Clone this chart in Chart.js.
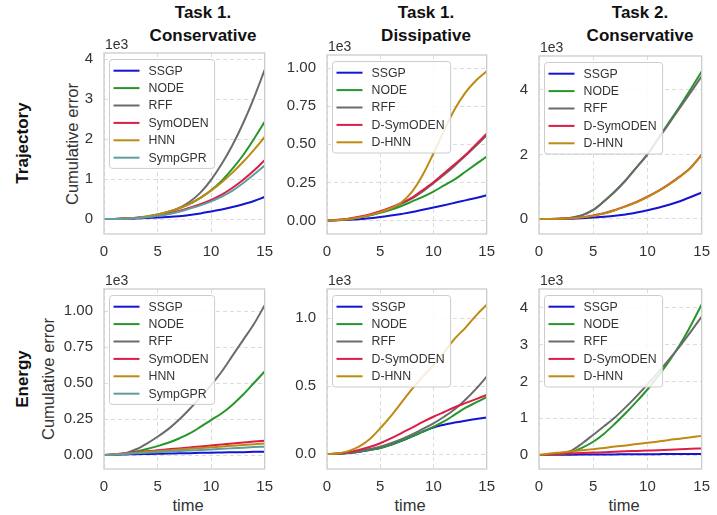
<!DOCTYPE html>
<html>
<head>
<meta charset="utf-8">
<script src="https://cdn.jsdelivr.net/npm/chart.js@4.4.0/dist/chart.umd.min.js"></script>
<style>
  body { margin: 0; background: #fff; font-family: "Liberation Sans", Arial, sans-serif; }
  #fig { position: relative; width: 717px; height: 515px; overflow: hidden; background: #fff; }
  #fig canvas { position: absolute; }
  .lbl { position: absolute; white-space: nowrap; line-height: 1; color: #333; }
  .col { font-weight: bold; font-size: 17px; color: #111; text-align: center; line-height: 23px; transform: translateX(-50%); }
  .row { font-weight: bold; font-size: 17px; color: #111; transform: translate(-50%, -50%) rotate(-90deg); }
  .ax { font-size: 16.5px; transform: translate(-50%, -50%); }
  .axr { font-size: 16.5px; transform: translate(-50%, -50%) rotate(-90deg); }
</style>
</head>
<body>
<div id="fig">
  <div class="lbl col" style="left:203px;top:1px">Task 1.<br>Conservative</div>
  <div class="lbl col" style="left:426px;top:1px">Task 1.<br>Dissipative</div>
  <div class="lbl col" style="left:640px;top:1px">Task 2.<br>Conservative</div>
  <div class="lbl row" style="left:22px;top:143px">Trajectory</div>
  <div class="lbl row" style="left:22px;top:379px">Energy</div>
  <div class="lbl axr" style="left:72px;top:144px">Cumulative error</div>
  <div class="lbl axr" style="left:48px;top:379px">Cumulative error</div>
  <div class="lbl ax" style="left:188px;top:505px">time</div>
  <div class="lbl ax" style="left:410px;top:505px">time</div>
  <div class="lbl ax" style="left:624px;top:505px">time</div>
</div>
<script>
const times = [0, 1, 2, 3, 4, 5, 6, 7, 8, 9, 10, 11, 12, 13, 14, 15]
const xTicks = [0, 5, 10, 15]

const namesCons1 = ['SSGP', 'NODE', 'RFF', 'SymODEN', 'HNN', 'SympGPR']
const namesOther = ['SSGP', 'NODE', 'RFF', 'D-SymODEN', 'D-HNN']

// trajectory, task 1 conservative (x1e3)
const trajCons1SSGP = [0, 0.002, 0.006, 0.012, 0.022, 0.035, 0.05, 0.07, 0.1, 0.14, 0.19, 0.24, 0.3, 0.37, 0.45, 0.55]
const trajCons1NODE = [0, 0.003, 0.012, 0.03, 0.06, 0.11, 0.18, 0.27, 0.38, 0.53, 0.72, 0.96, 1.26, 1.6, 2.0, 2.43]
const trajCons1RFF = [0, 0.003, 0.01, 0.025, 0.05, 0.09, 0.16, 0.27, 0.43, 0.66, 0.98, 1.38, 1.85, 2.4, 3.03, 3.73]
const trajCons1SymODEN = [0, 0.002, 0.01, 0.025, 0.05, 0.085, 0.13, 0.2, 0.28, 0.37, 0.48, 0.61, 0.78, 0.98, 1.21, 1.47]
const trajCons1HNN = [0, 0.003, 0.013, 0.032, 0.065, 0.115, 0.18, 0.27, 0.38, 0.53, 0.71, 0.92, 1.16, 1.43, 1.73, 2.05]
const trajCons1SympGPR = [0, 0.002, 0.009, 0.022, 0.045, 0.078, 0.12, 0.18, 0.26, 0.34, 0.44, 0.56, 0.71, 0.9, 1.11, 1.34]

// trajectory, task 1 dissipative
const trajDiss1SSGP = [0, 0.001, 0.004, 0.008, 0.014, 0.022, 0.032, 0.043, 0.055, 0.07, 0.085, 0.1, 0.116, 0.132, 0.148, 0.165]
const trajDiss1NODE = [0, 0.003, 0.01, 0.02, 0.033, 0.05, 0.07, 0.095, 0.125, 0.155, 0.19, 0.23, 0.27, 0.32, 0.37, 0.42]
const trajDiss1RFF = [0, 0.003, 0.01, 0.02, 0.035, 0.055, 0.08, 0.11, 0.145, 0.19, 0.245, 0.3, 0.36, 0.425, 0.49, 0.56]
const trajDiss1SymODEN = [0, 0.004, 0.012, 0.024, 0.04, 0.06, 0.085, 0.115, 0.15, 0.2, 0.25, 0.31, 0.37, 0.43, 0.5, 0.57]
const trajDiss1HNN = [0, 0.003, 0.01, 0.02, 0.035, 0.055, 0.08, 0.12, 0.19, 0.3, 0.44, 0.59, 0.73, 0.84, 0.92, 0.98]

// trajectory, task 2 conservative
const trajCons2SSGP = [0, 0.001, 0.004, 0.01, 0.025, 0.045, 0.07, 0.1, 0.14, 0.2, 0.27, 0.35, 0.44, 0.55, 0.68, 0.82]
const trajCons2NODE = [0, 0.002, 0.01, 0.04, 0.12, 0.28, 0.55, 0.85, 1.2, 1.6, 2.0, 2.5, 3.0, 3.5, 4.03, 4.57]
const trajCons2RFF = [0, 0.002, 0.01, 0.04, 0.12, 0.28, 0.55, 0.85, 1.2, 1.6, 2.0, 2.48, 2.96, 3.45, 3.93, 4.42]
const trajCons2SymODEN = [0, 0.002, 0.008, 0.02, 0.05, 0.11, 0.18, 0.28, 0.4, 0.53, 0.69, 0.87, 1.08, 1.32, 1.6, 1.99]
const trajCons2HNN = [0, 0.002, 0.008, 0.02, 0.05, 0.1, 0.17, 0.27, 0.39, 0.52, 0.68, 0.86, 1.07, 1.31, 1.59, 1.98]

// energy, task 1 conservative
const enCons1SSGP = [0, 0.002, 0.004, 0.006, 0.007, 0.009, 0.01, 0.012, 0.013, 0.015, 0.016, 0.018, 0.019, 0.02, 0.022, 0.023]
const enCons1NODE = [0, 0.002, 0.01, 0.025, 0.042, 0.062, 0.085, 0.115, 0.15, 0.195, 0.243, 0.29, 0.35, 0.42, 0.5, 0.58]
const enCons1RFF = [0, 0.003, 0.012, 0.04, 0.08, 0.127, 0.18, 0.245, 0.32, 0.4, 0.486, 0.58, 0.69, 0.8, 0.91, 1.04]
const enCons1SymODEN = [0, 0.006, 0.013, 0.02, 0.026, 0.033, 0.04, 0.046, 0.053, 0.06, 0.066, 0.073, 0.08, 0.087, 0.094, 0.1]
const enCons1HNN = [0, 0.005, 0.01, 0.016, 0.021, 0.027, 0.032, 0.038, 0.043, 0.048, 0.054, 0.059, 0.065, 0.07, 0.075, 0.08]
const enCons1SympGPR = [0, 0.004, 0.008, 0.012, 0.016, 0.02, 0.024, 0.028, 0.031, 0.035, 0.039, 0.043, 0.047, 0.051, 0.055, 0.058]

// energy, task 1 dissipative
const enDiss1SSGP = [0, 0.002, 0.008, 0.017, 0.03, 0.045, 0.068, 0.097, 0.13, 0.165, 0.196, 0.216, 0.232, 0.246, 0.258, 0.27]
const enDiss1NODE = [0, 0.002, 0.008, 0.017, 0.03, 0.045, 0.068, 0.098, 0.13, 0.165, 0.2, 0.24, 0.29, 0.34, 0.38, 0.42]
const enDiss1RFF = [0, 0.003, 0.01, 0.022, 0.037, 0.055, 0.08, 0.11, 0.145, 0.185, 0.226, 0.275, 0.33, 0.4, 0.48, 0.57]
const enDiss1SymODEN = [0, 0.004, 0.014, 0.03, 0.052, 0.08, 0.115, 0.155, 0.195, 0.237, 0.275, 0.31, 0.345, 0.375, 0.405, 0.435]
const enDiss1HNN = [0, 0.005, 0.022, 0.055, 0.11, 0.19, 0.28, 0.38, 0.48, 0.57, 0.656, 0.75, 0.85, 0.93, 1.02, 1.1]

// energy, task 2 conservative
const enCons2SSGP = [0, 0.005, 0.008, 0.01, 0.012, 0.014, 0.015, 0.017, 0.019, 0.02, 0.022, 0.024, 0.026, 0.027, 0.029, 0.03]
const enCons2NODE = [0, 0.005, 0.02, 0.08, 0.2, 0.36, 0.58, 0.85, 1.14, 1.45, 1.78, 2.15, 2.55, 3.0, 3.52, 4.09]
const enCons2RFF = [0, 0.005, 0.03, 0.12, 0.32, 0.55, 0.78, 1.02, 1.3, 1.6, 1.92, 2.25, 2.6, 2.96, 3.35, 3.76]
const enCons2SymODEN = [0, 0.015, 0.03, 0.042, 0.054, 0.065, 0.077, 0.088, 0.1, 0.11, 0.12, 0.13, 0.145, 0.155, 0.168, 0.18]
const enCons2HNN = [0, 0.04, 0.07, 0.1, 0.13, 0.16, 0.19, 0.23, 0.26, 0.3, 0.33, 0.37, 0.41, 0.44, 0.48, 0.52]

// y ticks and limits per panel (row-major)
const yTicks = [[0, 1, 2, 3, 4], [0, 0.25, 0.5, 0.75, 1.0], [0, 2, 4],
                [0, 0.25, 0.5, 0.75, 1.0], [0, 0.5, 1.0], [0, 1, 2, 3, 4]]
const yDecimals = [0, 2, 0, 2, 1, 0]
const yMin = [-0.375, -0.089, -0.465, -0.097, -0.11, -0.38]
const yMax = [4.15, 1.087, 5.05, 1.153, 1.216, 4.51]

const colors = {
    'SSGP': '#1414d2',
    'NODE': '#27962a',
    'RFF': '#6b6b6b',
    'SymODEN': '#dc1e46',
    'D-SymODEN': '#dc1e46',
    'HNN': '#be8a12',
    'D-HNN': '#be8a12',
    'SympGPR': '#5f9ea0',
}

const panels = [
    { names: namesCons1, series: [trajCons1SSGP, trajCons1NODE, trajCons1RFF, trajCons1SymODEN, trajCons1HNN, trajCons1SympGPR] },
    { names: namesOther, series: [trajDiss1SSGP, trajDiss1NODE, trajDiss1RFF, trajDiss1SymODEN, trajDiss1HNN] },
    { names: namesOther, series: [trajCons2SSGP, trajCons2NODE, trajCons2RFF, trajCons2SymODEN, trajCons2HNN] },
    { names: namesCons1, series: [enCons1SSGP, enCons1NODE, enCons1RFF, enCons1SymODEN, enCons1HNN, enCons1SympGPR] },
    { names: namesOther, series: [enDiss1SSGP, enDiss1NODE, enDiss1RFF, enDiss1SymODEN, enDiss1HNN] },
    { names: namesOther, series: [enCons2SSGP, enCons2NODE, enCons2RFF, enCons2SymODEN, enCons2HNN] },
]

// plot boxes (chart areas) in page pixels
const colLeft = [104, 327, 539]
const colRight = [272, 494, 709]
const rowTop = [[53, 55, 56], [289, 289, 289]]
const rowBottom = [234, 469]

const FONT = '"Liberation Sans", Arial, sans-serif'
const PAD_L = 70, PAD_T = 25, PAD_R = 10, AX_H = 30

// frame + "1e3" + legend inside the axes
const axesDeco = {
    id: 'axesDeco',
    afterDatasetsDraw(chart) {
        const ctx = chart.ctx, a = chart.chartArea
        ctx.save()
        ctx.strokeStyle = '#cccccc'
        ctx.lineWidth = 1.3
        ctx.strokeRect(a.left, a.top, a.right - a.left, a.bottom - a.top)
        ctx.fillStyle = '#333'
        ctx.font = '14px ' + FONT
        ctx.textAlign = 'left'
        ctx.textBaseline = 'middle'
        ctx.fillText('1e3', a.left + 1, a.top - 8)
        ctx.restore()
    },
    afterDraw(chart) {
        const ctx = chart.ctx, a = chart.chartArea
        const ds = chart.data.datasets
        ctx.save()
        ctx.font = '12.3px ' + FONT
        const w = Math.max(...ds.map(d => ctx.measureText(d.label).width))
        const rowH = 17.4
        const x0 = a.left + 5.5, y0 = a.top + 6.5
        const bw = 39 + w + 6, bh = ds.length * rowH + 4.5
        ctx.beginPath()
        ctx.roundRect(x0, y0, bw, bh, 3)
        ctx.fillStyle = 'rgba(255,255,255,0.85)'
        ctx.fill()
        ctx.strokeStyle = '#cccccc'
        ctx.lineWidth = 1
        ctx.stroke()
        ds.forEach((d, i) => {
            const cy = y0 + 2.5 + rowH / 2 + i * rowH
            ctx.beginPath()
            ctx.moveTo(x0 + 4, cy)
            ctx.lineTo(x0 + 30, cy)
            ctx.strokeStyle = d.borderColor
            ctx.lineWidth = 2
            ctx.stroke()
            ctx.fillStyle = '#333'
            ctx.textAlign = 'left'
            ctx.textBaseline = 'middle'
            ctx.fillText(d.label, x0 + 39, cy + 0.5)
        })
        ctx.restore()
    }
}

const fig = document.getElementById('fig')

panels.forEach((p, k) => {
    const r = Math.floor(k / 3), c = k % 3
    const L = colLeft[c], R = colRight[c], T = rowTop[r][c], B = rowBottom[r]

    const canvas = document.createElement('canvas')
    canvas.width = R - L + PAD_L + PAD_R
    canvas.height = B - T + PAD_T + AX_H
    canvas.style.left = (L - PAD_L) + 'px'
    canvas.style.top = (T - PAD_T) + 'px'
    fig.appendChild(canvas)

    const n = p.series.length
    const datasets = p.series.map((vals, i) => ({
        label: p.names[i],
        data: times.map((t, j) => ({ x: t, y: vals[j] })),
        borderColor: colors[p.names[i]],
        backgroundColor: colors[p.names[i]],
        order: n - 1 - i,
    }))

    const tickFont = { family: FONT, size: 15 }
    const grid = { color: '#dcdcdc', lineWidth: 1, drawTicks: false }
    const border = { display: false, dash: [4, 3] }

    new Chart(canvas, {
        type: 'line',
        data: { datasets: datasets },
        plugins: [axesDeco],
        options: {
            responsive: false,
            animation: false,
            devicePixelRatio: 1,
            layout: { padding: { left: 0, top: PAD_T, right: PAD_R, bottom: 0 } },
            elements: {
                point: { radius: 0 },
                line: { borderWidth: 2, cubicInterpolationMode: 'monotone' },
            },
            plugins: {
                legend: { display: false },
                tooltip: { enabled: false },
            },
            scales: {
                x: {
                    type: 'linear',
                    min: 0,
                    max: 15,
                    afterBuildTicks: s => { s.ticks = xTicks.map(v => ({ value: v })) },
                    afterFit: s => { s.height = AX_H },
                    grid: grid,
                    border: border,
                    ticks: { padding: 9, color: '#333', font: tickFont, callback: v => String(v) },
                },
                y: {
                    type: 'linear',
                    min: yMin[k],
                    max: yMax[k],
                    afterBuildTicks: s => { s.ticks = yTicks[k].map(v => ({ value: v })) },
                    afterFit: s => { s.width = PAD_L },
                    grid: grid,
                    border: border,
                    ticks: { padding: 11, color: '#333', font: tickFont, callback: v => Number(v).toFixed(yDecimals[k]) },
                },
            },
        },
    })
})
</script>
</body>
</html>
